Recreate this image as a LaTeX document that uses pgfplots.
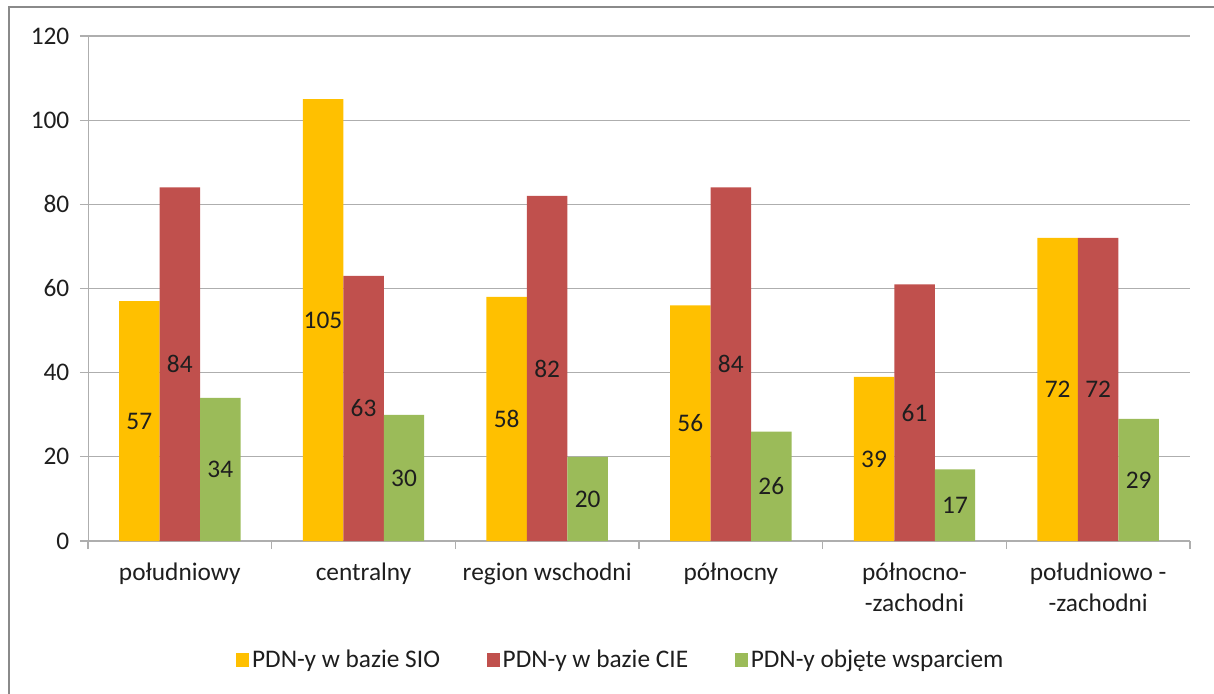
\documentclass[border=0pt]{standalone}
\usepackage{fontspec}
\setmainfont{Carlito}
\usepackage{pgfplots}
\pgfplotsset{compat=1.18}
\usepackage{pgfplotstable}

\definecolor{sio}{HTML}{FFC000}
\definecolor{cie}{HTML}{C0504D}
\definecolor{wsp}{HTML}{9BBB59}
\definecolor{gridgray}{HTML}{AEAEAE}
\definecolor{framegray}{HTML}{8A8A8A}
\definecolor{txt}{HTML}{1E1E1E}

% wartosci: x, SIO, CIE, objete wsparciem
\pgfplotstableread{
x sio cie wsp
0 57 84 34
1 105 63 30
2 58 82 20
3 56 84 26
4 39 61 17
5 72 72 29
}\regiony

\newcommand{\lbl}{\fontsize{19}{23}\selectfont}

\begin{document}
\begin{tikzpicture}
\useasboundingbox (0,0) rectangle (910.5pt,519.75pt);
\draw[framegray, line width=2pt] (6.75pt,-5pt) -- (6.75pt,514.5pt) -- (920pt,514.5pt);
\begin{axis}[
    at={(66pt,114pt)}, anchor=south west,
    scale only axis,
    width=826.5pt, height=378.75pt,
    xmin=-0.5, xmax=5.5,
    ymin=0, ymax=120,
    ytick={0,20,...,120},
    xtick={0,...,5},
    xticklabels={południowy, centralny, region wschodni, północny,
        {północno-\\-zachodni}, {południowo -\\-zachodni}},
    minor xtick={-0.5,0.5,...,5.5},
    axis x line*=bottom, axis y line*=left,
    axis line style={gridgray, -},
    ymajorgrids, grid style={gridgray, line width=0.8pt},
    tick align=outside,
    major tick length=6pt, minor tick length=6pt,
    tick style={gridgray, line width=0.8pt},
    major x tick style={draw=none},
    xticklabel style={align=center, text=txt, font=\lbl, yshift=-7pt},
    yticklabel style={text=txt, font=\lbl, xshift=-4.5pt},
    /pgf/number format/assume math mode=true,
    legend style={draw=none, legend columns=3, at={(0.4837,-0.2356)}, anchor=center,
        font=\lbl, text=txt,
        /tikz/every even column/.append style={column sep=33pt}},
    legend image code/.code={\fill[#1] (0pt,-5pt) rectangle (10pt,5pt);},
]
\addplot[ybar, bar width=0.2205, bar shift=-0.2205, fill=sio, draw=none]
    table[x=x, y=sio]{\regiony};
\addplot[ybar, bar width=0.2205, bar shift=0, fill=cie, draw=none]
    table[x=x, y=cie]{\regiony};
\addplot[ybar, bar width=0.2205, bar shift=0.2205, fill=wsp, draw=none]
    table[x=x, y=wsp]{\regiony};
\legend{PDN-y w bazie SIO, PDN-y w bazie CIE, PDN-y objęte wsparciem}

% etykiety w polowie wysokosci slupkow
\pgfplotsset{every node near coord/.append style={anchor=center, text=txt, font=\lbl}}
\addplot[draw=none, forget plot, nodes near coords, point meta=explicit]
    table[x expr=\thisrow{x}-0.2205, y expr=\thisrow{sio}/2, meta=sio]{\regiony};
\addplot[draw=none, forget plot, nodes near coords, point meta=explicit]
    table[x=x, y expr=\thisrow{cie}/2, meta=cie]{\regiony};
\addplot[draw=none, forget plot, nodes near coords, point meta=explicit]
    table[x expr=\thisrow{x}+0.2205, y expr=\thisrow{wsp}/2, meta=wsp]{\regiony};
\end{axis}
\end{tikzpicture}
\end{document}
